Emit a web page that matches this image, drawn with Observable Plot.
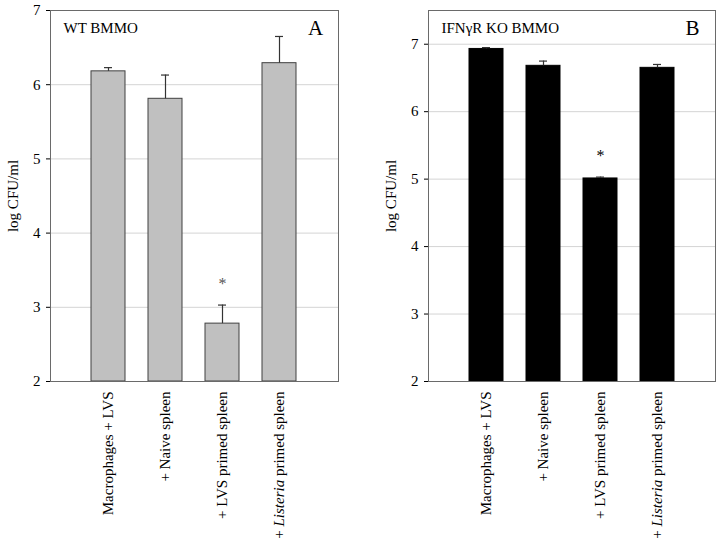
<!DOCTYPE html>
<html>
<head>
<meta charset="utf-8">
<script src="https://cdn.jsdelivr.net/npm/d3@7"></script>
<script src="https://cdn.jsdelivr.net/npm/@observablehq/plot@0.6"></script>
<style>
  body { margin: 0; background: #fff; }
  #wrap { display: flex; width: 720px; height: 548px; }
  svg, svg text { font-family: "Liberation Serif", "Times New Roman", serif !important; }
</style>
</head>
<body>
<div id="wrap"></div>
<script>
const categories = ["Macrophages + LVS", "+ Naive spleen", "+ LVS primed spleen", "+ Listeria primed spleen"];
const wtMeans = [6.18, 5.81, 2.78, 6.29];
const wtErr   = [0.05, 0.32, 0.25, 0.36];
const wtStar  = [null, null, 3.32, null];
const koMeans = [6.93, 6.68, 5.01, 6.65];
const koErr   = [0.02, 0.07, 0.02, 0.05];
const koStar  = [null, null, 5.34, null];
const yTicks  = [2, 3, 4, 5, 6, 7];
const wtYMax = 7;
const koYMax = 7.5;
const wtTitle = "WT BMMO", wtLetter = "A";
const koTitle = "IFNγR KO BMMO", koLetter = "B";
const yLabel = "log CFU/ml";

function italicise(node) {
  const t = node.textContent;
  const sel = d3.select(node);
  const parts = t.split("Listeria");
  sel.text(null);
  sel.append("tspan").text(parts[0]);
  sel.append("tspan").attr("font-style", "italic").text("Listeria");
  sel.append("tspan").text(parts[1]);
}

function panel({means, errs, stars, yMax, title, letter, fill, stroke, starColor, marginLeft, marginRight, gridTicks}) {
  const data = categories.map((c, i) => ({cat: c, value: means[i], err: errs[i], star: stars[i]}));
  const base = yTicks[0];
  const p = Plot.plot({
    width: 360, height: 548,
    marginTop: 10, marginBottom: 167, marginLeft, marginRight,
    style: {fontFamily: "'Liberation Serif', serif", fontSize: "15px", color: "#000", background: "#fff"},
    x: {domain: categories, paddingInner: 0.4, paddingOuter: 0.7, label: null},
    y: {domain: [base, yMax], label: null},
    marks: [
      Plot.gridY(gridTicks, {stroke: "#d4d4d4", strokeOpacity: 1}),
      Plot.barY(data, {x: "cat", y1: () => base, y2: "value", fill, stroke, strokeWidth: 1}),
      Plot.ruleX(data, {x: "cat", y1: "value", y2: d => d.value + d.err, stroke: "#333", strokeWidth: 1.2}),
      Plot.tickY(data, {x: "cat", y: d => d.value + d.err, stroke: "#333", strokeWidth: 1.2, insetLeft: 13, insetRight: 13}),
      Plot.text(data.filter(d => d.star != null), {x: "cat", y: "star", text: () => "*", fill: starColor, fontSize: 16}),
      Plot.frame({stroke: "#6a6a6a"}),
      Plot.axisY(yTicks, {tickSize: 4, tickPadding: 6, fontSize: 15, tickFormat: d3.format("d"), label: yLabel, labelAnchor: "center", labelArrow: "none", labelOffset: 43}),
      Plot.axisX({tickSize: 0, tickPadding: 10, tickRotate: -90, fontSize: 15, label: null}),
      Plot.text([title], {frameAnchor: "top-left", dx: 13, dy: 12, text: d => d, fontSize: 15, textAnchor: "start"}),
      Plot.text([letter], {frameAnchor: "top-right", dx: -23, dy: 10, text: d => d, fontSize: 21, textAnchor: "middle"})
    ]
  });
  d3.select(p).selectAll("text").each(function() {
    if (!this.textContent.includes("Listeria")) return;
    const tspans = d3.select(this).selectAll("tspan").nodes().filter(n => n.textContent.includes("Listeria"));
    if (tspans.length) tspans.forEach(italicise); else italicise(this);
  });
  return p;
}

const wrap = document.getElementById("wrap");
wrap.append(panel({means: wtMeans, errs: wtErr, stars: wtStar, yMax: wtYMax, title: wtTitle, letter: wtLetter,
  fill: "#c0c0c0", stroke: "#404040", starColor: "#555", marginLeft: 50, marginRight: 22, gridTicks: [3, 4, 5, 6]}));
wrap.append(panel({means: koMeans, errs: koErr, stars: koStar, yMax: koYMax, title: koTitle, letter: koLetter,
  fill: "#000", stroke: "#000", starColor: "#000", marginLeft: 68, marginRight: 5, gridTicks: [3, 4, 5, 6, 7]}));
</script>
</body>
</html>
